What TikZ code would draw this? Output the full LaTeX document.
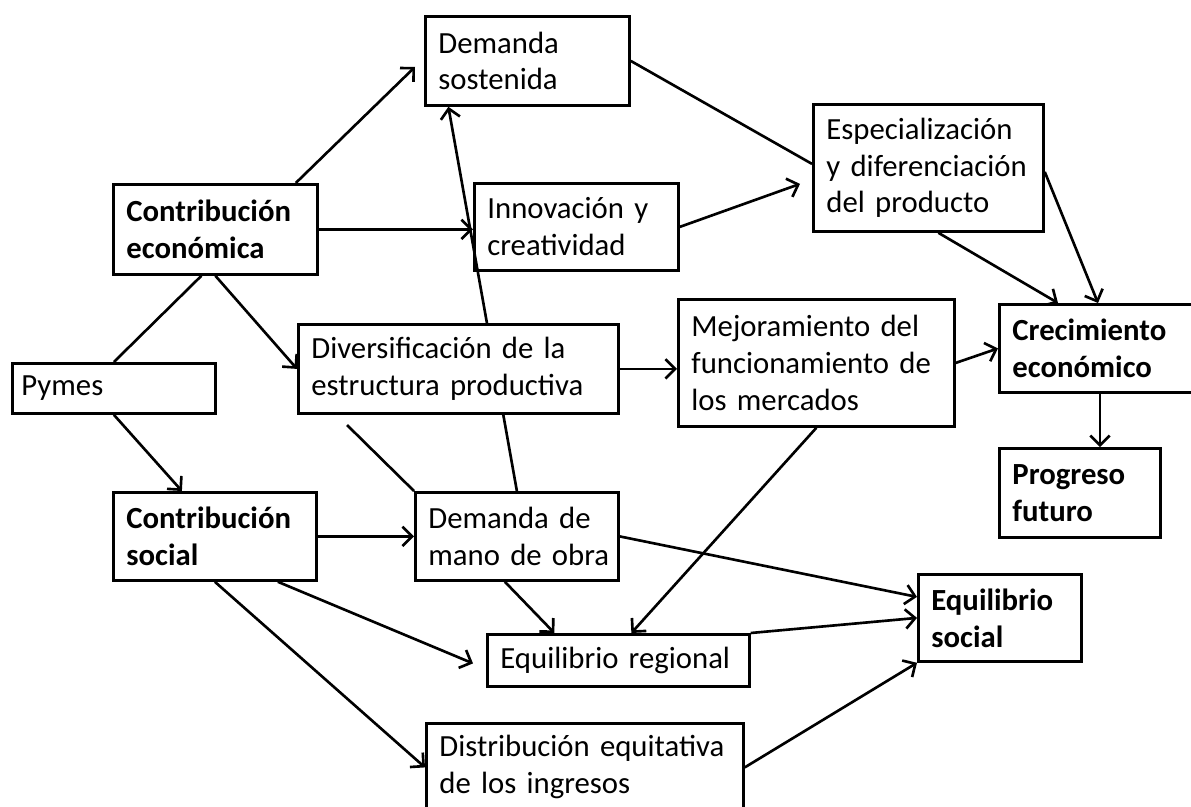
\documentclass[tikz,border=0pt]{standalone}
\usepackage{fontspec}
\setmainfont{Carlito}
\usetikzlibrary{calc,arrows.meta,backgrounds}
\tikzset{
  caja/.style={
    rectangle,
    draw,
    fill=white,
    line width=1.6pt,
    anchor=north west,
    align=left,
    inner xsep=0.26cm,
    font=\fontsize{17.5}{21}\selectfont
  },
  cajab/.style={
    caja,
    font=\fontsize{17.5}{21}\selectfont\bfseries
  },
  linea/.style={line width=1.5pt},
  flecha/.style={
    linea,
    -{Straight Barb[length=5.5pt,width=11pt]}
  }
}

\begin{document}
\begin{tikzpicture}[x=0.02cm, y=-0.02cm]
  \useasboundingbox (0,0) rectangle (1191,806);

  % The boxes
  \node[caja, text width=3.56cm, minimum height=1.78cm] (sostenida) at (424,15)
    {Demanda\\sostenida};
  \node[caja, text width=4.08cm, minimum height=2.54cm] (especial) at (812,103)
    {Especialización\\y~diferenciación\\del~producto};
  \node[cajab, text width=3.56cm, minimum height=1.80cm] (contecon) at (112,183)
    {Contribución\\económica};
  \node[caja, fill=none, text width=3.56cm, minimum height=1.74cm] (innov) at (473,182)
    {Innovación~y\\creatividad};
  \node[caja, text width=5.88cm, minimum height=1.78cm] (diversif) at (297,323)
    {Diversificación~de~la\\estructura~productiva};
  \node[caja, text width=5.00cm, minimum height=2.54cm] (mejora) at (677,298)
    {Mejoramiento~del\\funcionamiento~de\\los~mercados};
  \node[cajab, text width=3.90cm, minimum height=1.76cm] (crecim) at (998,303)
    {Crecimiento\\económico};
  \node[cajab, text width=2.70cm, minimum height=1.78cm] (progreso) at (998,447)
    {Progreso\\futuro};
  \node[caja, inner xsep=0.18cm, text width=3.70cm, minimum height=1.00cm] (pymes) at (11,362)
    {Pymes};
  \node[cajab, text width=3.54cm, minimum height=1.76cm] (contsoc) at (112,491)
    {Contribución\\social};
  \node[caja, text width=3.54cm, minimum height=1.76cm] (manoobra) at (414,491)
    {Demanda~de\\mano~de~obra};
  \node[cajab, text width=2.74cm, minimum height=1.74cm] (eqsocial) at (917,573)
    {Equilibrio\\social};
  \node[caja, text width=4.72cm, minimum height=1.04cm] (eqregional) at (486,633)
    {Equilibrio~regional};
  \node[caja, text width=5.82cm, minimum height=1.76cm] (distrib) at (425,722)
    {Distribución~equitativa\\de~los~ingresos};
  \coordinate (suelto) at (347,425);

  % The connectors
  \begin{scope}[on background layer]
    \draw[flecha] ($(contecon.north east)+(-23,0)$) -- ($(sostenida.west)+(-9,6)$);
    \draw[flecha] (contecon.east) -- (contecon.east -| innov.west);
    \draw[linea] ($(contecon.south)+(-14,0)$) -- (pymes.north);
    \draw[flecha] (contecon.south) -- (diversif.west);
    \draw[flecha] (pymes.south) -- ($(contsoc.north)+(-33,0)$);
    \draw[flecha] (manoobra.north) -- ($(sostenida.south)+(-79,0)$);
    \draw[linea] (suelto) -- (manoobra.north west);
    \draw[flecha] (diversif.east) -- (diversif.east -| mejora.west);
    \draw[flecha] (innov.east) -- ($(especial.west)+(-12,16)$);
    \draw[linea] (sostenida.east) -- ($(especial.west)+(0,-4)$);
    \draw[flecha] ($(especial.south)+(10,0)$) -- ($(crecim.north west)+(60,0)$);
    \draw[flecha] ($(especial.east)+(0,4)$) -- ($(crecim.north west)+(100,0)$);
    \draw[flecha] (mejora.east) -- (crecim.west);
    \draw[flecha] ($(crecim.south west)+(102,0)$) -- ($(progreso.north west)+(102,0)$);
    \draw[flecha] (contsoc.east) -- (contsoc.east -| manoobra.west);
    \draw[flecha] (contsoc.south) -- (distrib.west);
    \draw[flecha] ($(contsoc.south)+(63,0)$) -- ($(eqregional.west)+(-13,3)$);
    \draw[flecha] ($(manoobra.south)+(-12,0)$) -- ($(eqregional.north)+(-64,0)$);
    \draw[flecha] (manoobra.east) -- ($(eqsocial.west)+(0,-21)$);
    \draw[flecha] (mejora.south) -- ($(eqregional.north)+(13,0)$);
    \draw[flecha] (eqregional.north east) -- (eqsocial.west);
    \draw[flecha] (distrib.east) -- (eqsocial.south west);
  \end{scope}
\end{tikzpicture}
\end{document}
